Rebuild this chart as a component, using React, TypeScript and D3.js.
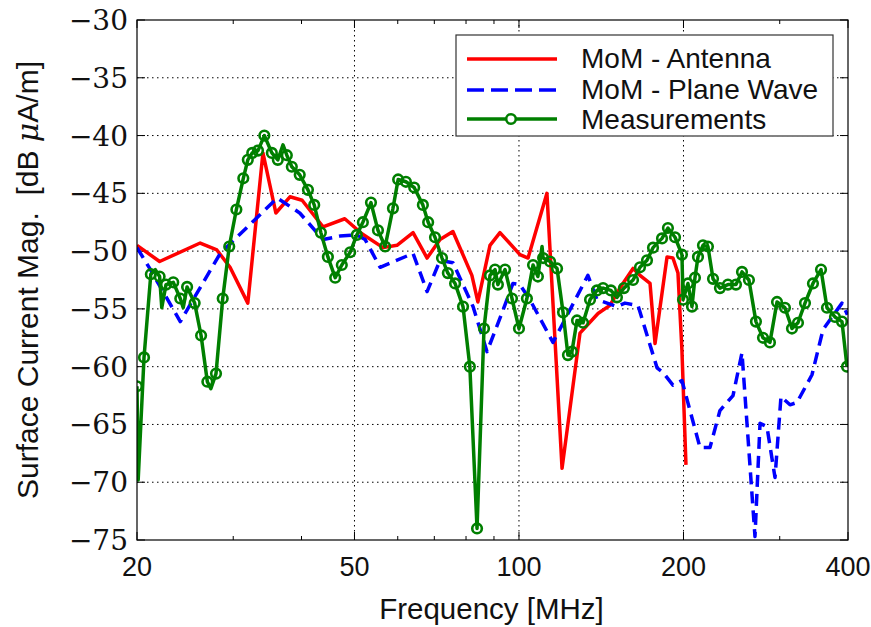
import React from 'react';
import * as d3 from 'd3';

// ---------- data ----------
const xTickValues = [20, 50, 100, 200, 400];
const xMinorTicks = [30, 40, 60, 70, 80, 90, 300];
const yTickValues = [-30, -35, -40, -45, -50, -55, -60, -65, -70, -75];

const antennaFreq = [20, 22, 26.1, 28, 29.6, 31.9, 34, 35.9, 38.1, 40.1, 43.8, 48, 51.6, 56.4, 59.8, 64, 67.9, 71.7, 75.7, 82, 84.1, 88.5, 92.3, 100.4, 103.9, 112.5, 119.9, 129.3, 139.5, 146.7, 153, 161.7, 166.5, 173.7, 177.4, 186.6, 191.3, 195.4, 198.7, 202.1];
const antennaDb = [-49.5, -50.9, -49.3, -49.9, -51.4, -54.5, -41.5, -46.7, -45.3, -45.6, -47.9, -47.2, -48.5, -49.7, -49.5, -48.4, -50.6, -49.0, -48.3, -52.1, -54.4, -49.5, -48.4, -50.3, -50.6, -45.0, -68.8, -57.1, -55.4, -54.7, -53.2, -51.5, -52.1, -52.8, -58.0, -50.5, -50.6, -51.9, -58.6, -68.5];

const planeFreq = [20, 21.1, 24, 28.4, 36.1, 39.7, 43.8, 47, 50.5, 52.3, 55.7, 64, 67.9, 71.7, 75.7, 82.4, 87.4, 92.3, 97.5, 100.4, 104.7, 115.4, 133.7, 138.9, 151.1, 156.3, 165.1, 178.9, 183.4, 191.3, 198.7, 214.4, 223.6, 233.2, 246.4, 255.9, 270.3, 276.1, 284.3, 294.1, 301.6, 313.3, 322.6, 343.7, 360, 390, 399];
const planeDb = [-49.7, -51.5, -56.1, -50.2, -45.4, -46.7, -49.0, -48.7, -48.6, -49.0, -51.4, -50.2, -53.5, -50.8, -51.0, -54.8, -58.7, -55.8, -52.8, -52.9, -54.2, -57.9, -52.1, -54.2, -54.8, -54.5, -54.7, -60.1, -60.5, -61.6, -61.2, -67.0, -67.0, -63.8, -62.5, -58.8, -74.7, -64.9, -65.2, -69.6, -62.6, -63.3, -63.1, -60.7, -56.8, -54.5, -55.5];

const measFreq = [20, 20.1, 20.6, 21.2, 21.6, 22.0, 22.2, 22.6, 23.3, 24.0, 24.3, 24.7, 25.5, 26.2, 26.9, 27.3, 27.9, 28.7, 29.5, 30.4, 31.3, 31.9, 32.5, 33.3, 34.2, 35.3, 36.2, 37.0, 37.6, 38.4, 39.7, 41.1, 42.2, 43.4, 44.7, 46.1, 47.4, 49.1, 50.5, 51.8, 53.6, 55.2, 56.9, 58.8, 60.1, 62.1, 64.3, 66.7, 68.2, 70.2, 72.3, 74.1, 76.4, 79.0, 81.3, 83.8, 86.3, 88.5, 90.4, 91.5, 94.3, 97.1, 100.0, 103.4, 106.1, 108.3, 110.2, 110.7, 114.0, 117.4, 120.4, 122.9, 125.0, 127.7, 131.0, 134.9, 138.9, 142.5, 147.3, 151.1, 155.6, 161.7, 166.5, 171.5, 175.9, 182.7, 187.3, 193.0, 198.7, 199.6, 203.8, 207.3, 209.9, 212.6, 217.1, 221.7, 226.5, 233.2, 241.2, 249.5, 255.9, 263.5, 271.4, 279.6, 287.9, 296.6, 306.7, 315.9, 324.0, 333.7, 345.1, 357.0, 366.1, 378.6, 390.0, 398.3];
const measDb = [-61.7, -69.8, -59.2, -52.0, -51.6, -52.2, -54.9, -52.9, -52.7, -54.1, -54.9, -53.1, -54.5, -57.3, -61.3, -61.9, -60.6, -54.1, -49.6, -46.4, -43.7, -42.1, -41.5, -41.3, -40.0, -41.5, -42.1, -40.8, -41.7, -42.7, -43.4, -44.7, -46.0, -48.4, -50.5, -52.3, -51.2, -50.1, -48.6, -47.5, -45.8, -48.2, -49.6, -46.3, -43.8, -44.0, -44.5, -46.0, -47.5, -48.8, -50.6, -51.9, -52.8, -54.8, -60.0, -74.0, -56.7, -52.1, -51.6, -52.9, -51.6, -54.1, -56.7, -54.1, -51.2, -52.2, -49.6, -50.6, -50.9, -51.5, -55.3, -59.0, -58.7, -56.0, -56.2, -54.2, -53.4, -53.2, -53.4, -54.0, -53.2, -52.5, -51.4, -50.8, -49.7, -48.9, -48.0, -48.8, -50.3, -54.2, -52.8, -54.8, -52.3, -50.5, -49.5, -49.6, -52.4, -53.2, -52.9, -52.9, -51.8, -52.5, -56.1, -57.5, -57.9, -54.4, -54.9, -56.7, -56.2, -54.5, -52.8, -51.6, -54.9, -55.7, -56.1, -60.0];
// indices of measurement samples drawn without a marker
const measUnmarked = [1, 4, 6, 10, 15, 27, 66];

const seriesNames = ['MoM - Antenna', 'MoM - Plane Wave', 'Measurements'];

// ---------- layout ----------
const W = 871;
const H = 627;
const PL = 137, PR = 848, PT = 20, PB = 540;
const SANS = '"Liberation Sans", Arial, sans-serif';
const SERIF = '"DejaVu Serif", "Liberation Serif", serif';
const RED = '#ff0000';
const BLUE = '#0000ff';
const GREEN = '#007f00';

export default function App() {
  const x = d3.scaleLog().domain([20, 400]).range([PL, PR]);
  const y = d3.scaleLinear().domain([-75, -30]).range([PB, PT]);
  const line = d3.line<[number, number]>().x(d => x(d[0])).y(d => y(d[1]));

  const antenna = antennaFreq.map((f, i) => [f, antennaDb[i]] as [number, number]);
  const plane = planeFreq.map((f, i) => [f, planeDb[i]] as [number, number]);
  const meas = measFreq.map((f, i) => [f, measDb[i]] as [number, number]);

  const gridX = xTickValues.filter(v => v !== 20 && v !== 400);
  const gridY = yTickValues.filter(v => v !== -30 && v !== -75);

  return (
    <svg width={W} height={H} style={{ position: 'absolute', left: 0, top: 0, background: '#fff' }}>
      <defs>
        <clipPath id="plotClip">
          <rect x={PL} y={PT} width={PR - PL} height={PB - PT} />
        </clipPath>
      </defs>
      <rect x={0} y={0} width={W} height={H} fill="#fff" />
      {/* grid */}
      <g stroke="#000" strokeWidth={1} strokeDasharray="1.5,3.5">
        {gridX.map(v => (
          <line key={'gx' + v} x1={x(v)} x2={x(v)} y1={PT} y2={PB} />
        ))}
        {gridY.map(v => (
          <line key={'gy' + v} x1={PL} x2={PR} y1={y(v)} y2={y(v)} />
        ))}
      </g>
      {/* ticks */}
      <g stroke="#000" strokeWidth={1}>
        {xTickValues.map(v => (
          <g key={'xt' + v}>
            <line x1={x(v)} x2={x(v)} y1={PB} y2={PB - 8} />
            <line x1={x(v)} x2={x(v)} y1={PT} y2={PT + 8} />
          </g>
        ))}
        {xMinorTicks.map(v => (
          <g key={'xm' + v}>
            <line x1={x(v)} x2={x(v)} y1={PB} y2={PB - 4} />
            <line x1={x(v)} x2={x(v)} y1={PT} y2={PT + 4} />
          </g>
        ))}
        {yTickValues.map(v => (
          <g key={'yt' + v}>
            <line x1={PL} x2={PL + 8} y1={y(v)} y2={y(v)} />
            <line x1={PR} x2={PR - 8} y1={y(v)} y2={y(v)} />
          </g>
        ))}
      </g>
      {/* series */}
      <g clipPath="url(#plotClip)" fill="none" strokeLinejoin="round">
        <path d={line(antenna) || ''} stroke={RED} strokeWidth={3.5} />
        <path d={line(plane) || ''} stroke={BLUE} strokeWidth={3.5} strokeDasharray="12,7" />
        <path d={line(meas) || ''} stroke={GREEN} strokeWidth={3.5} />
        {meas.map((d, i) =>
          measUnmarked.includes(i) ? null : (
            <circle key={'m' + i} cx={x(d[0])} cy={y(d[1])} r={4.8} stroke={GREEN} strokeWidth={2.6} fill="none" />
          )
        )}
      </g>
      {/* frame */}
      <rect x={PL} y={PT} width={PR - PL} height={PB - PT} fill="none" stroke="#000" strokeWidth={1.2} />
      {/* x tick labels */}
      <g fontFamily={SANS} fontSize={27} fill="#111" textAnchor="middle">
        {xTickValues.map(v => (
          <text key={'xl' + v} x={x(v)} y={576}>{v}</text>
        ))}
      </g>
      {/* y tick labels */}
      <g fontFamily={SERIF} fontSize={28} fill="#111" textAnchor="end">
        {yTickValues.map(v => (
          <text key={'yl' + v} x={128} y={y(v) + 10}>{'\u2212' + Math.abs(v)}</text>
        ))}
      </g>
      {/* axis titles */}
      <text x={(PL + PR) / 2 - 1} y={619} fontFamily={SANS} fontSize={29.5} fill="#111" textAnchor="middle">
        Frequency [MHz]
      </text>
      <text
        transform={`translate(38, ${(PT + PB) / 2}) rotate(-90)`}
        fontFamily={SANS}
        fontSize={30}
        fill="#111"
        textAnchor="middle"
      >
        Surface Current Mag.{'\u00a0\u00a0'}[dB <tspan fontStyle="italic" fontFamily={SERIF}>{'\u03bc'}</tspan>A/m]
      </text>
      {/* legend */}
      <g>
        <rect x={456} y={35} width={377} height={101} fill="#fff" stroke="#333" strokeWidth={1.2} />
        <line x1={467} x2={557} y1={59} y2={59} stroke={RED} strokeWidth={3.5} />
        <line x1={467} x2={557} y1={90} y2={90} stroke={BLUE} strokeWidth={3.5} strokeDasharray="17,7" />
        <line x1={467} x2={557} y1={119} y2={119} stroke={GREEN} strokeWidth={3.5} />
        <circle cx={511} cy={119} r={4.8} stroke={GREEN} strokeWidth={2.6} fill="#fff" />
        <g fontFamily={SANS} fontSize={28} fill="#111">
          {seriesNames.map((n, i) => (
            <text key={n} x={581} y={68 + i * 30.5}>{n}</text>
          ))}
        </g>
      </g>
    </svg>
  );
}
